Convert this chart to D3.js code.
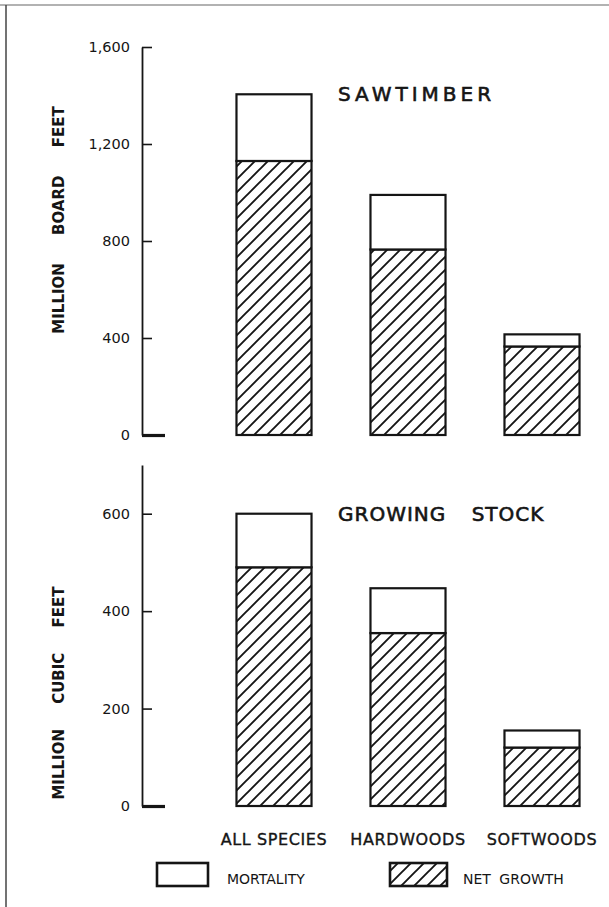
<!DOCTYPE html>
<html>
<head>
<meta charset="utf-8">
<script src="https://cdn.jsdelivr.net/npm/d3@7/dist/d3.min.js"></script>
<style>
  html, body { margin: 0; padding: 0; background: #fff; }
  svg { display: block; }
  text { font-family: 'DejaVu Sans', sans-serif; fill: #151515; }
</style>
</head>
<body>
<svg id="chart" width="609" height="907"></svg>
<script>
// Data
const species = ['ALL SPECIES', 'HARDWOODS', 'SOFTWOODS'];
const sawNetGrowth = [1130, 765, 365];
const sawMortality = [275, 225, 50];
const gsNetGrowth = [490, 355, 120];
const gsMortality = [110, 92, 35];
const sawTicks = [0, 400, 800, 1200, 1600];
const gsTicks = [0, 200, 400, 600];
const legendLabels = ['MORTALITY', 'NET GROWTH'];

const svg = d3.select('#chart');
const ink = '#151515';

// hatch pattern for net growth
const defs = svg.append('defs');
defs.append('pattern')
    .attr('id', 'hatch')
    .attr('patternUnits', 'userSpaceOnUse')
    .attr('width', 13)
    .attr('height', 13)
    .append('path')
    .attr('d', 'M0,13 L13,0 M-3.25,3.25 L3.25,-3.25 M9.75,16.25 L16.25,9.75')
    .attr('stroke', ink)
    .attr('stroke-width', 1.9);

// frame lines (top and left edge of the scanned page)
svg.append('line').attr('x1', 0).attr('x2', 609).attr('y1', 5).attr('y2', 5)
    .attr('stroke', '#666').attr('stroke-width', 1.2);
svg.append('line').attr('x1', 6).attr('x2', 6).attr('y1', 5).attr('y2', 907)
    .attr('stroke', '#444').attr('stroke-width', 1.5);

const x = d3.scaleBand().domain(species).range([207, 609]).paddingInner(0.44).paddingOuter(0.22);
const axisX = 142;

function drawPanel(opts) {
    const { y, ticks, net, mort, title, yTitle, yTitleY, format } = opts;
    const g = svg.append('g');

    // axis with ticks pointing inward
    const axis = g.append('g')
        .attr('transform', `translate(${axisX},0)`)
        .call(d3.axisLeft(y).tickValues(ticks).tickSizeInner(-10).tickSizeOuter(0).tickPadding(12).tickFormat(format));
    axis.select('.domain').attr('stroke', ink).attr('stroke-width', 1.8);
    axis.selectAll('.tick line').attr('stroke', ink).attr('stroke-width', 1.6);
    axis.selectAll('.tick text')
        .attr('font-family', 'DejaVu Sans')
        .attr('font-size', 14.5)
        .attr('fill', ink);
    axis.selectAll('.tick').filter(d => d === 0).select('line')
        .attr('x2', 23).attr('stroke-width', 3.2);

    const rows = species.map((s, i) => ({ s, net: net[i], total: net[i] + mort[i] }));

    // net growth (hatched)
    g.selectAll('rect.net').data(rows).join('rect')
        .attr('class', 'net')
        .attr('x', d => x(d.s))
        .attr('width', x.bandwidth())
        .attr('y', d => y(d.net))
        .attr('height', d => y(0) - y(d.net))
        .attr('fill', 'url(#hatch)')
        .attr('stroke', ink)
        .attr('stroke-width', 2.2);

    // mortality (open)
    g.selectAll('rect.mort').data(rows).join('rect')
        .attr('class', 'mort')
        .attr('x', d => x(d.s))
        .attr('width', x.bandwidth())
        .attr('y', d => y(d.total))
        .attr('height', d => y(d.net) - y(d.total))
        .attr('fill', '#fff')
        .attr('stroke', ink)
        .attr('stroke-width', 2.2);

    // panel title next to the first bar
    g.append('text')
        .attr('x', 338)
        .attr('y', y(rows[0].total) + 7)
        .attr('font-size', 20)
        .attr('stroke', ink)
        .attr('stroke-width', 0.6)
        .style('letter-spacing', title.ls + 'px')
        .style('word-spacing', title.ws + 'px')
        .text(title.text);

    // rotated unit label
    g.append('text')
        .attr('transform', `translate(59,${yTitleY}) rotate(-90)`)
        .attr('text-anchor', 'middle')
        .attr('dy', '0.36em')
        .attr('font-size', 15)
        .attr('font-weight', 'bold')
        .style('word-spacing', yTitle.ws + 'px')
        .text(yTitle.text);
}

drawPanel({
    y: d3.scaleLinear().domain([0, 1600]).range([435, 47]),
    ticks: sawTicks,
    net: sawNetGrowth,
    mort: sawMortality,
    format: d3.format(','),
    title: { text: 'SAWTIMBER', ls: 4, ws: 0 },
    yTitle: { text: 'MILLION BOARD FEET', ws: 23 },
    yTitleY: 220
});

drawPanel({
    y: d3.scaleLinear().domain([0, 700]).range([806, 465]),
    ticks: gsTicks,
    net: gsNetGrowth,
    mort: gsMortality,
    format: d3.format(','),
    title: { text: 'GROWING STOCK', ls: 1, ws: 18 },
    yTitle: { text: 'MILLION CUBIC FEET', ws: 20 },
    yTitleY: 693
});

// category labels under the lower panel
svg.append('g').selectAll('text').data(species).join('text')
    .attr('x', d => x(d) + x.bandwidth() / 2)
    .attr('y', 845)
    .attr('text-anchor', 'middle')
    .attr('font-size', 16)
    .attr('stroke', ink)
    .attr('stroke-width', 0.35)
    .style('letter-spacing', '0.6px')
    .text(d => d);

// legend
const legend = svg.append('g');
const legendItems = [
    { label: legendLabels[0], fill: '#fff', bx: 157, bw: 51, tx: 227 },
    { label: legendLabels[1], fill: 'url(#hatch)', bx: 390, bw: 57, tx: 463 }
];
legendItems.forEach(d => {
    legend.append('rect')
        .attr('x', d.bx).attr('y', 863)
        .attr('width', d.bw).attr('height', 23)
        .attr('fill', d.fill)
        .attr('stroke', ink)
        .attr('stroke-width', 2.6);
    legend.append('text')
        .attr('x', d.tx).attr('y', 884)
        .attr('font-size', 14)
        .style('word-spacing', '4px')
        .text(d.label);
});
</script>
</body>
</html>
